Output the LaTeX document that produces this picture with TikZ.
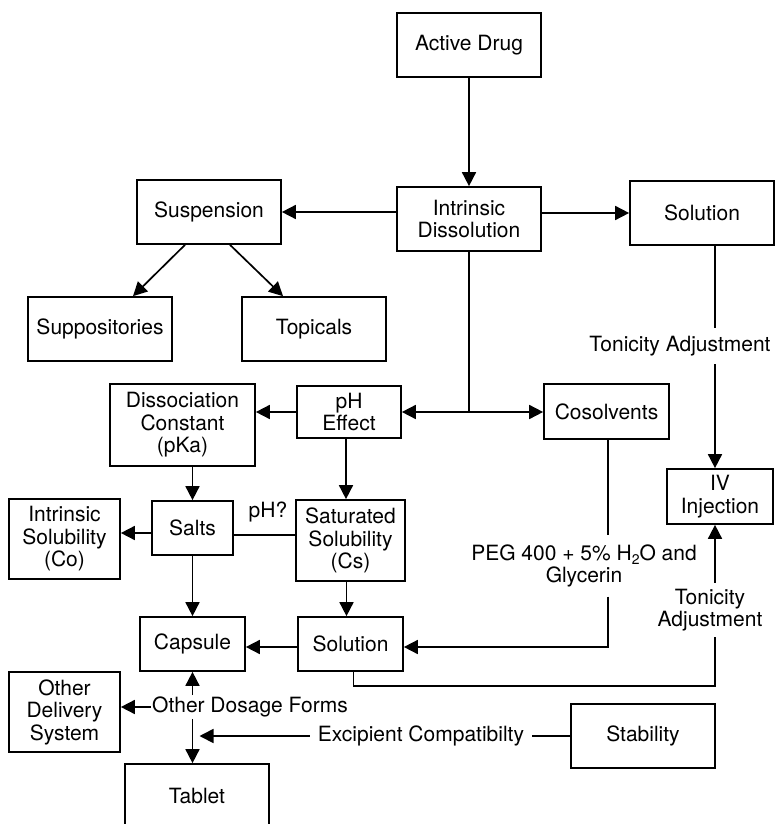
\documentclass[tikz,border=0pt]{standalone}
\usepackage{fontspec}
\setmainfont{TeX Gyre Heros}
\usetikzlibrary{arrows.meta,calc}
\newcommand\subtwo{\raisebox{-4pt}{\fontsize{14}{14}\selectfont 2}}
\begin{document}
\begin{tikzpicture}[x=1pt,y=-1pt,
  every node/.style={font=\fontsize{21}{22.5}\selectfont},
  box/.style={draw,line width=1.7pt,inner sep=0pt,align=center},
  sz/.style 2 args={minimum width=#1pt,minimum height=#2pt},
  lbl/.style={inner sep=0pt,align=center},
  ln/.style={line width=1.7pt},
  arr/.style={ln,-{Triangle[length=14pt,width=14pt]}}]
\clip (0,0) rectangle (775,824);
% boxes
\node[box,sz={144}{64}] (act)  at (469,45)     {Active Drug};
\node[box,sz={144}{64}] (idis) at (469,219)    {Intrinsic\\Dissolution};
\node[box,sz={144}{64}] (susp) at (209,212)    {Suspension};
\node[box,sz={144}{64}] (solt) at (702,213)    {Solution};
\node[box,sz={144}{64}] (supp) at (100,329)    {Suppositories};
\node[box,sz={144}{64}] (topi) at (314,329)    {Topicals};
\node[box,sz={145}{82}] (diss) at (182.5,425)  {Dissociation\\Constant\\(pKa)};
\node[box,sz={104}{52}] (phe)  at (349,412)    {pH\\Effect};
\node[box,sz={125}{55}] (cosv) at (606.5,411.5){Cosolvents};
\node[box,sz={106}{55}] (ivi)  at (720,496.5)  {IV\\Injection};
\node[box,sz={81}{54}]  (salt) at (192.5,528)  {Salts};
\node[box,sz={111}{80}] (isol) at (64.5,539)   {Intrinsic\\Solubility\\(Co)};
\node[box,sz={109}{81}] (ssol) at (350.5,540.5){Saturated\\Solubility\\(Cs)};
\node[box,sz={105}{54}] (caps) at (192.5,644)  {Capsule};
\node[box,sz={105}{54}] (solb) at (350.5,644)  {Solution};
\node[box,sz={111}{80}] (odel) at (64.5,712)   {Other\\Delivery\\System};
\node[box,sz={144}{64}] (stab) at (643,736)    {Stability};
\node[box,sz={144}{64}] (tabl) at (197,796)    {Tablet};
% labels
\node[lbl,inner ysep=8pt] (tonA) at (680,346) {Tonicity Adjustment};
\node[lbl,inner ysep=9pt] (peg)  at (584,566) {PEG 400 + 5\% H\subtwo O and\\Glycerin};
\node[lbl,inner ysep=6pt] (tonB) at (710,610) {Tonicity\\Adjustment};
\node[lbl] (phq) at (268,512) {pH?};
\node[lbl,inner sep=1.5pt] (od) at (250,707) {Other Dosage Forms};
\node[lbl,inner xsep=8pt] (exc) at (421,736) {Excipient Compatibilty};
% connectors
\draw[arr] (act) -- (idis);
\draw[arr] (idis.west |- susp.east) -- (susp.east);
\draw[arr] (idis.east |- solt.west) -- (solt.west);
\draw[arr] ($(susp.south)+(-24,0)$) -- ($(supp.north)+(33,0)$);
\draw[arr] ($(susp.south)+(21,0)$) -- ($(topi.north)+(-31,0)$);
\coordinate (jn) at (idis.south |- phe.east);
\draw[ln] (idis.south) -- (jn);
\draw[arr] (jn) -- (phe.east);
\draw[arr] (jn) -- (jn -| cosv.west);
\draw[arr] (phe.west) -- (phe.west -| diss.east);
\coordinate (a1) at ($(phe.south)+(-3,0)$);
\draw[arr] (a1) -- (a1 |- ssol.north);
\draw[arr] (salt.north |- diss.south) -- (salt.north);
\coordinate (a2) at ($(salt.west)+(0,5)$);
\draw[arr] (a2) -- (a2 -| isol.east);
\coordinate (a3) at ($(salt.east)+(0,7)$);
\draw[ln] (a3) -- (a3 -| ssol.west);
\draw[arr] (salt.south) -- (caps.north);
\coordinate (a4) at ($(ssol.south)+(-4,0)$);
\draw[arr] (a4) -- (a4 |- solb.north);
\coordinate (a5) at ($(solb.west)+(0,3)$);
\draw[arr] (a5) -- (a5 -| caps.east);
\coordinate (a6) at ($(solt.south)+(13,0)$);
\draw[ln] (a6) -- (a6 |- tonA.north);
\draw[arr] (a6 |- tonA.south) -- (a6 |- ivi.north);
\coordinate (a7) at ($(cosv.south)+(1.5,0)$);
\coordinate (a8) at ($(solb.east)+(0,3)$);
\draw[ln] (a7) -- (a7 |- peg.north);
\draw[arr] (a7 |- peg.south) -- (a7 |- a8) -- (a8);
\coordinate (a9) at ($(solb.south)+(3,0)$);
\coordinate (a10) at ($(a9)+(0,14)$);
\draw[ln] (a9) -- (a10) -- (a10 -| a6) -- (a6 |- tonB.south);
\draw[arr] (a6 |- tonB.north) -- (a6 |- ivi.south);
\draw[arr] (od.north -| caps.south) -- (caps.south);
\draw[arr] (od.west) -- (od.west -| odel.east);
\draw[arr] (od.south -| caps.south) -- (caps.south |- tabl.north);
\draw[ln] (stab.west) -- (exc.east);
\coordinate (a11) at ($(caps.south |- exc.west)+(7,0)$);
\draw[arr] (exc.west) -- (a11);
\end{tikzpicture}
\end{document}
